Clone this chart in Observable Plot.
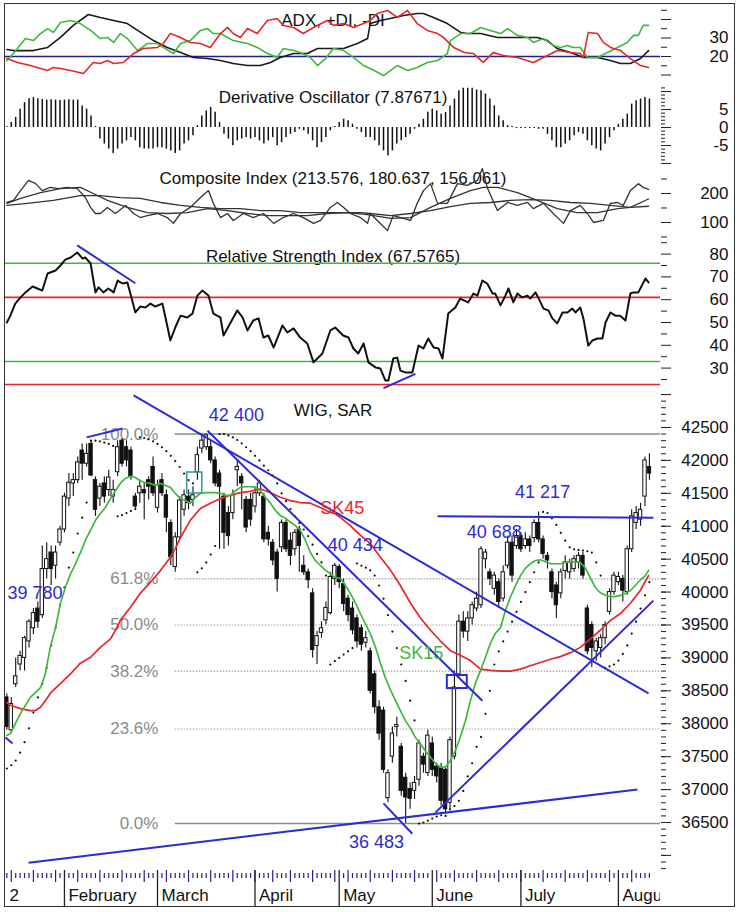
<!DOCTYPE html>
<html><head><meta charset="utf-8">
<script src="https://cdn.jsdelivr.net/npm/d3@7"></script>
<script src="https://cdn.jsdelivr.net/npm/@observablehq/plot@0.6"></script>
<style>
html,body{margin:0;padding:0;background:#fff;}
#chart{position:relative;width:739px;height:912px;overflow:hidden;background:#fff;}
#chart svg{overflow:visible;background:none!important;}
.panel{position:absolute;left:0;}
#frame{position:absolute;left:4px;top:3px;width:731px;height:904px;box-sizing:border-box;border:1.5px solid #333;z-index:10;pointer-events:none;}
</style></head>
<body><div id="chart"><div id="frame"></div></div>
<script>
// ---------------- DATA (day index 0 = 13 Jan 2012) ----------------
const open = [38400,37900,38600,38900,39000,39250,39450,39750,39650,40350,
 40600,40400,40750,40950,41420,41650,41700,42150,41950,42250,
 41700,41420,41650,41550,41450,41820,42300,42200,42150,41450,
 41500,41550,41700,41900,41280,41700,41470,41050,40380,40830,
 41250,41450,41400,41820,42180,42200,42200,42000,41800,41450,
 41200,41200,41850,41750,41400,41400,41300,41500,41450,40900,
 40750,40600,40680,41050,40780,40650,40950,40400,40300,39980,
 39180,39380,39570,39680,40200,40380,40120,39900,39750,39600,
 39450,39230,39100,38750,38250,38200,36870,37500,37950,37650,
 37180,37010,36980,37150,37500,37250,37700,37350,37330,37300,
 36800,37500,38750,39550,39400,39600,39750,39800,40500,40300,
 40050,40150,39900,40400,40750,40700,40850,40700,40800,40820,
 41050,40800,40550,40300,40100,39980,40320,40300,40350,40450,
 40550,39750,39500,39100,39150,39300,39700,40000,40150,40200,
 40000,40650,41050,41100,41450,41900];
const close = [37950,38300,38720,39030,39300,39550,39680,39550,40350,40500,
 40350,40600,40950,41450,41660,41700,41970,41950,42100,41770,
 41250,41600,41450,41740,41550,42200,41950,42000,41750,41300,
 41600,41500,41600,41500,41620,41500,41130,40530,40830,41390,
 41470,41350,41470,42080,42300,42380,42000,41650,41600,40900,
 40850,41470,41900,41650,40980,41100,41500,41650,40800,40800,
 40480,40200,41050,40650,40550,40900,40700,40300,40180,39120,
 39330,39450,39760,40230,40400,40150,39820,39650,39420,39250,
 39200,39300,38500,38250,37850,37300,37250,37850,37980,36980,
 36880,36860,37100,37700,37380,37820,37300,37200,36830,36700,
 37750,38550,39550,39400,39600,39800,39900,40650,40600,40200,
 40250,39850,40300,40750,40250,40850,40650,40800,40700,41050,
 40800,40580,40480,40000,39800,40300,40450,40450,40500,40550,
 40250,39100,39150,39250,39300,39500,40000,40250,40230,40020,
 40650,41150,41200,41250,42000,41800];
const high = [38450,38400,39000,39100,39330,39580,39750,39850,40700,40750,
 40700,40700,41000,41500,41800,41800,42050,42250,42250,42300,
 41750,41650,41750,41850,41700,42300,42330,42300,42200,41500,
 41700,41650,41750,42050,41700,41800,41550,41100,40900,41450,
 41550,41550,41600,42200,42400,42400,42300,42050,41850,41500,
 41300,41550,42000,41800,41450,41500,41600,41700,41500,41000,
 40800,40650,41100,41100,40900,40950,41000,40550,40350,40050,
 39400,39550,39850,40300,40434,40420,40200,39950,39850,39650,
 39500,39400,39150,38800,38350,38250,37300,37950,38100,37700,
 37250,37100,37200,37750,37550,37900,37800,37400,37400,37350,
 37800,38800,39650,39700,39700,39850,40000,40688,40650,40350,
 40300,40200,40400,40850,40850,40950,40900,40900,40850,41100,
 41217,40850,40600,40350,40150,40350,40550,40500,40550,40600,
 40600,39800,39550,39300,39350,39550,40050,40300,40300,40250,
 40700,41250,41300,41350,42050,42100];
const low = [37900,37850,38550,38800,38800,39150,39350,39450,39600,40200,
 40100,40200,40700,40900,41300,41450,41650,41700,41900,41750,
 41150,41300,41350,41450,41350,41750,41900,41900,41700,41270,
 41350,41100,41400,41450,41200,41450,40900,40400,40300,40800,
 41150,41250,41300,41700,42100,42150,41950,41600,40650,40650,
 40700,41100,41600,41250,40900,41000,41200,41450,40750,40700,
 40400,40000,40600,40600,40400,40550,40300,40250,40050,39000,
 38900,39300,39500,39650,40100,40050,39700,39550,39350,39150,
 39100,39150,38450,38150,37750,37250,36800,37400,37800,36900,
 36483,36700,36850,37050,37250,37200,37200,37100,36750,36620,
 36700,37450,38700,39300,39250,39500,39700,39750,40350,40100,
 39950,39750,39850,40350,40150,40650,40600,40650,40600,40750,
 40750,40500,40350,39900,39600,39900,40200,40200,40300,40350,
 40200,39050,38850,38950,39000,39200,39650,39950,40100,39850,
 39950,40600,40950,41000,41300,41700];
const sar = [37320,37370,37440,37560,37720,37930,38170,38400,38610,38850,
 39190,39460,39800,40070,40370,40600,40890,41130,41360,42300,
 42300,42290,42270,42250,42220,41150,41170,41200,41230,41260,
 42350,42340,42320,42290,42250,42200,42140,42070,41990,41900,
 41800,41700,41650,40300,40360,40450,40570,40700,42400,42400,
 42380,42350,42310,42260,42200,42140,42070,42000,41920,41850,
 41770,41650,41500,41380,41260,41150,41050,40950,40850,40720,
 40580,40450,40250,38900,38950,39000,39050,39100,39150,40434,
 40400,40370,40330,40250,40100,39900,39650,39400,39150,38900,
 38650,38350,38050,36483,36500,36530,36560,36590,36610,36600,
 36700,36750,36830,36980,37200,37400,37650,37800,38150,38500,
 38900,39100,39250,39400,39550,39700,39850,40000,40150,40300,
 40450,41217,41200,41120,41020,40900,40780,40680,40650,40640,
 40630,40620,40600,40450,40250,38850,38870,38900,38960,39060,
 39190,39370,39550,39750,39950,40150];
const sk15Day = [0,0.8,3.1,5.3,7.6,8.7,9.8,11,12.1,13.2,14.4,15.5,16.6,17.7,18.9,20,21.1,22.2,23.4,24.5,
 25.6,26.8,27.9,29,30.1,31.3,32.4,33.5,34.7,35.8,36.9,38,39.2,40.3,41.4,42.6,43.7,44.8,45.9,47.1,
 48.2,49.3,50.4,51.6,52.7,53.8,55,56.1,57.2,58.3,59.5,60.6,61.7,62.9,64,65.1,66.2,67.4,68.5,69.6,
 70.8,71.9,73,74.1,75.3,76.4,77.5,78.7,79.8,80.9,82,83.2,84.3,85.4,86.6,87.7,88.8,89.9,91.1,92.2,
 93.3,94.4,95.6,96.7,97.8,98.9,100.1,101.2,102.3,103.5,104.6,105.7,106.9,108,109.1,110.2,111.4,112.5,113.6,114.8,
 115.9,117,118.1,119.3,120.4,121.5,122.7,123.8,124.9,126,127.2,128.3,129.4,130.6,131.7,132.8,133.9,135.1,136.2,137.3,
 138.4,139.6,140.7,141.8,142.9,144.1,144.8];
const sk15Val = [37820,37850,38160,38400,38550,38760,39160,39460,39830,40070,40280,40430,40600,40780,40940,41090,41190,41280,41420,41540,
 41650,41730,41760,41740,41690,41660,41650,41620,41650,41620,41590,41500,41420,41390,41350,41440,41500,41510,41510,41510,
 41500,41470,41470,41540,41590,41600,41600,41590,41540,41440,41350,41240,41160,41120,41060,41010,40940,40780,40600,40480,
 40400,40330,40280,40220,40210,40100,39980,39830,39670,39520,39370,39160,38920,38700,38510,38350,38200,38050,37930,37790,
 37700,37590,37490,37400,37340,37340,37440,37590,37790,38050,38350,38610,38810,39010,39220,39370,39460,39720,39920,40100,
 40250,40360,40430,40480,40490,40460,40430,40430,40430,40450,40460,40460,40450,40360,40210,40070,39990,39950,39930,39930,
 39950,39980,40020,40100,40180,40250,40330];
const sk45Day = [0,0.8,3.1,5.3,6.5,7.6,8.7,9.8,11,12.1,14.4,16.6,18.9,21.1,23.4,24.5,25.6,27.9,30.1,32.4,
 34.7,36.9,38,39.2,41.4,43.7,45.9,48.2,50.4,52.7,55,57.2,58.3,59.5,61.7,64,66.2,68.5,70.8,73,
 74.1,75.3,77.5,79.8,82,84.3,86.6,88.8,91.1,93.3,95.6,97.8,100.1,102.3,104.6,106.9,109.1,111.4,113.6,115.9,
 118.1,120.4,122.7,124.9,127.2,129.4,131.7,133.9,136.2,138.4,140.7,142.9,144.8];
const sk45Val = [38320,38280,38230,38200,38200,38250,38350,38460,38540,38610,38760,38920,39010,39160,39290,39420,39570,39770,39980,40150,
 40330,40530,40660,40830,41090,41270,41350,41420,41470,41510,41530,41570,41540,41510,41440,41390,41360,41350,41280,41210,
 41190,41130,41010,40860,40740,40530,40330,40100,39830,39610,39420,39260,39110,39040,38960,38830,38810,38800,38800,38830,
 38880,38930,38980,39020,39080,39160,39290,39420,39570,39670,39830,40020,40250];
const fibLevels = [42400, 40200, 39500, 38800, 37920, 36483];
const fibLabels = ["100.0%", "61.8%", "50.0%", "38.2%", "23.6%", "0.0%"];
// analyst trend lines: [day1, value1, day2, value2]
const priceTrends = [[28.6,42986,144.8,38460],[45.3,42450,107.3,38350],[96.7,36650,145.9,39870],
 [4.9,35890,142.3,37000],[85,36790,91.5,36330],[97.2,41150,145.9,41130],[18,42350,26.1,42485],[-0.3,37790,1.3,37700]];
const rsiTrends = [[15.9,83.8,29,67.2],[85,21.2,92.2,27.5]];
const annoText = ["42 400","40 434","40 688","41 217","36 483"];
const annoDay = [51.8,78.6,110,120.9,83.4];
const annoVal = [42680,40708,40905,41513,36196];
const edgeText = ["39 780"];
const edgeDay = [0.15];
const edgeVal = [39978];
const adxDay = [0,1.5,6,9.2,12.1,15,18.4,21.1,24.1,27.2,30.2,33.1,36.2,39.2,42.1,45.3,48.2,51.1,54.3,57.2,59.5,61.7,64.7,67.8,70.1,73,76,79.1,81.4,82,84.3,86.5,89.5,92.6,94,96.3,99.4,102.4,103.9,106.9,110.7,114.3,119.7,122,124.2,127.2,130.1,133.3,136.2,138.5,140.7,143,144.8];
const adxVal = [23.8,23.2,23.2,24.9,30.3,36.8,42.7,41.1,39.5,37.8,33,28.6,24.9,22.2,19.5,18.9,17.8,16.2,15.1,15.1,16.8,19.5,21.6,21.6,24.3,24.3,24.3,27,29.7,37.8,39.5,40.5,42.2,43.2,43.2,41.1,37.8,33,32.4,32.4,30.3,30.3,30.3,28.6,24.3,22.2,19.5,19.5,17.8,16.2,16.2,18.9,23.2];
const pdiDay = [0,1.5,4.2,6,7.6,9.2,10.5,12.1,14.4,16.6,18.9,21.1,22.7,24.1,25.6,27.2,29.5,31.7,34,35.3,37.6,39.2,41.4,43.7,45.3,46.6,48.2,51.1,54.3,56.5,58.8,61,62.4,64.7,66.2,68.5,70.1,71.9,73.7,76,78.2,80.5,82,85,88.1,90.4,92.6,94.9,97.2,99.4,100.1,102.4,104.6,106.9,109.1,111.4,113,115.2,117.5,118.8,121.1,123.3,124.9,126.5,127.8,129.4,131,133.3,135.5,137.8,140,141.4,142.5,143.6,144.8];
const pdiVal = [17.8,21.6,29.7,28.6,32.4,35.1,33,38.4,39.5,37.8,34.1,29.7,30.3,27.6,32.4,29.7,23.2,27,27,24.9,21.6,27,28.6,34.1,35.1,32.4,32.4,28.6,27,24.9,21.6,19.5,24.3,23.2,22.2,19.5,15.1,18.9,24.3,23.2,19.5,15.1,13.5,9.7,15.1,12.4,14.1,16.8,17.8,21.6,28.6,32.4,32.4,35.7,34.1,32.4,35.1,31.4,30.3,27.6,29.7,25.9,24.9,25.9,24.9,24.9,19.5,19.5,22.2,24.9,27.6,31.4,31.4,36.8,36.8];
const mdiDay = [0,2.4,5.3,7.6,9.2,10.5,12.1,14.4,17.3,19.5,21.1,22.7,24.1,26.3,28.6,30.8,34,35.3,36.9,39.2,41.4,43.7,45.9,48.2,49.8,51.1,52.7,54.3,56.5,58.8,61,62.4,64.7,66.9,69.2,72.3,73.7,76,78.2,80.5,82,83.6,85.9,88.1,90.4,92.6,94.9,97.2,98.5,100.8,103.3,105.3,107.5,109.8,112,115.2,118.8,122,124.2,127.2,129.4,130.1,131.2,133.3,134.6,136.2,138.5,140.7,143,144.8];
const mdiVal = [18.9,16.8,15.1,13.5,12.4,14.1,13.5,12.4,10.8,16.8,16.2,17.8,16.2,16.8,21.6,24.3,24.9,27,32.4,30.3,27.6,27,24.9,32.4,35.7,32.4,30.3,35.1,32.4,39.5,40.5,36.8,35.7,32.4,35.7,39.5,36.8,37.8,35.7,37.8,39.5,43.2,44.9,41.1,44.9,37.8,34.1,32.4,30.3,24.9,22.2,21.6,16.8,22.2,20.5,19.5,16.8,20.5,23.2,22.2,21.6,19.5,33,32.4,27.6,24.9,23.2,18.9,15.1,14.1];
const doVal = [0.2,1.4,2.8,5.1,6.9,8,8.3,8,7.8,7.6,7.7,7.6,7.5,7.6,7.7,7.6,7.6,6,5.1,3.2,0.3,
 -3.2,-4.6,-6,-7.2,-6,-4.6,-3.7,-2.8,-3.7,-5.6,-6,-6,-6,-5.6,-5.6,-6,-6.5,-7.2,-6.5,-4.6,-3.7,-2.3,
 0.5,3.2,4.6,5.6,4.2,1.4,
 -1.9,-3.2,-5.1,-3.7,-3.2,-2.8,-3.2,-2.8,-3.7,-4.6,-3.7,-2.8,-5.1,-4.2,-2.8,-1.9,-1.4,-0.5,-0.9,-1.9,-3.7,-5.6,-4.2,-2.8,-0.9,
 0.3,1.4,2.3,1.9,0.9,-0.5,-1.4,-2.8,
 -2.8,-3.7,-5.1,-6.5,-7.9,-6.5,-4.6,-3.7,-2.8,-1.9,-0.5,0.9,2.3,4.2,5.1,4.6,3.7,4.2,6,7.9,
 10.2,10.9,10.9,10.9,10.4,10.2,9.3,7.9,6,3.2,1.9,0.5,0.3,-0.3,-0.3,-0.3,-0.3,-0.3,-0.5,-0.5,
 -1.9,-3.7,-5.6,-5.6,-4.6,-3.7,-2.3,-1.4,-1.9,-3.7,-5.1,-6,-6.5,-4.6,-2.8,-0.9,0.9,2.3,3.7,6.5,
 7.4,7.9,8.3,7.9];
const ciDay = [0,1.5,3.1,4.9,6.5,8,9.8,11.6,13.7,15.9,17.7,18.9,20,21.1,22.7,24.5,26.8,28.6,30.1,31.7,34,36.2,37.6,39.2,41.4,43.7,45.5,46.6,48.2,49.8,51.1,53.4,55.6,57.9,60.2,62.4,64.7,66.9,69.2,70.8,73,74.6,76,77.5,79.8,81.4,82,83.6,85.9,87.2,89.5,91.1,92.6,94,95.6,97.2,99.4,101.7,103.9,106.2,107.3,108.4,110.7,113,115.2,117.5,118.8,121.1,123.3,125.6,127.2,129.4,131,132.4,134.6,136.2,137.8,139.1,140.7,142.5,143.6,144.8];
const ciVal = [169,176,210,245,234,210,221,217,221,217,186,152,131,131,152,131,159,131,117,124,131,117,97,131,152,186,210,166,117,131,107,131,117,131,97,117,131,117,97,107,152,169,152,131,117,97,131,107,72,124,114,107,166,210,234,166,166,234,228,245,286,221,141,169,159,169,148,166,131,97,141,159,131,100,107,166,169,159,210,234,221,214];
const ciFastDay = [0,3.1,7.6,12.1,16.6,19.5,22.7,27.2,31.7,36.2,40.7,45.3,49.8,54.3,58.8,63.3,67.8,72.3,76.9,81.4,86.6,91.1,95.6,100.1,104.6,107.5,110.7,115.2,119.7,124.2,128.7,133.3,137.8,140.7,144.8];
const ciFastVal = [166,183,203,217,221,200,176,152,134,131,134,148,141,131,124,124,124,131,134,127,114,117,152,183,210,221,221,203,176,148,134,134,148,152,181];
const ciSlowDay = [0,4.6,10.5,16.6,21.1,25.6,30.1,34.7,39.2,43.7,48.2,52.7,57.2,61.7,66.2,70.8,75.3,79.8,82,86.6,91.1,95.6,100.1,104.6,109.1,113.6,118.1,122.7,127.2,131.7,136.2,140.7,144.8];
const ciSlowVal = [159,166,176,193,193,186,183,169,159,152,148,148,141,141,134,134,134,134,131,124,131,141,155,166,169,176,179,176,169,166,159,152,156];
const rsiDay = [0,0.8,1.9,3.1,4.2,5.8,6.9,8,9.2,11,12.1,13.2,14.4,15.9,17.1,17.7,18.9,20,20.7,21.8,
 22.9,24.1,25,26.1,27.2,28.3,29,30.1,31.3,32.4,33.5,35.1,35.8,36.9,38,39.2,40.7,41.9,43,44.1,
 45.5,46.6,48.2,48.9,50.5,52,53.2,54.3,55.6,56.8,57.9,59,60.2,62.2,63.3,64.7,66.2,67.8,69.2,71.2,
 73,74.1,75.9,77.1,78.2,79.3,80.5,81.6,83.2,84.3,85.4,86.1,87.2,88.1,88.8,89.9,91.5,92.9,94,95.1,
 96.3,97.4,98.3,99.6,101.2,102.3,104.1,105.3,106.2,107.3,108.4,109.6,110.2,111.4,112.5,113.2,114.3,115.2,116.3,117.5,
 118.1,119.3,119.9,121.1,122.2,123.1,124.2,125.4,126.5,127.6,128.3,129.4,130.1,131.2,132.1,133.3,134.4,135.1,136.2,137.3,
 138.4,139.6,140.7,141.4,142.5,144.1,144.8];
const rsiVal = [50,53,58.3,61,63.2,65.8,64.9,64,71.5,72.8,75,77.6,78.5,80.7,78,78.5,75.9,63.2,65.4,63.2,
 64.9,63.2,68.4,67.1,67.5,59.6,54.4,57,56.6,58.3,57,58.3,52.2,42.1,47.8,53,52.2,53.9,61.8,64,
 61.8,53.9,52.2,44.3,50,55.3,52.2,46.5,50.9,51.8,43.4,44.3,39,48.7,45.6,47.4,43.4,40.8,32.5,36.4,
 46.5,47.8,44.3,43.4,38.6,36.4,40.8,32.5,30.3,29.8,24.6,24.6,34.2,34.6,28.9,28.1,28.1,39.9,38.6,43,
 39,38.6,34.2,53.9,56.6,60.5,58.8,62.7,61.8,68.4,67.1,62.7,62.7,57.5,61.8,64.9,58.8,62.7,61,61.8,
 60.5,63.2,61,56.1,55.3,51.8,49.6,54.4,54.4,56.1,54.4,56.6,51.8,39.9,42.1,43,43,50,54.4,53,
 53,50.9,62.7,63.2,63.2,69.3,67.6];
const rsiGreen = [76, 32.9];
const rsiRed = [61, 22.8];
const monthNames = ["2","February","March","April","May","June","July","August"];
const monthDay = [-0.3,13,34,56,75,96,116,138];
const weekStart = [1,6,11,16,21,26,31,36,41,46,51,56,60,64,69,74,77,82,87,92,97,101,106,111,116,121,126,131,136,141];
const priceTickLabels = [36500,37000,37500,38000,38500,39000,39500,40000,40500,41000,41500,42000,42500];
const rsiTickLabels = [30,40,50,60,70,80];
const ciTickLabels = [100,200];
const doTickLabels = [5,0,-5];
const adxTickLabels = [20,30];

// ---------------- RENDER ----------------
const FONT = '"Liberation Sans", Arial, Helvetica, sans-serif';
const XD = [-0.3, 147.5];
const BLUE = "#2b2bd8", GREEN = "#3fb83f", RED = "#e8252b", NAVY = "#20208f";
const IDX = d3.range(open.length);
const chart = document.getElementById("chart");

function panel(top, height, yDomain, marks) {
  const svg = Plot.plot({
    width: 739, height, marginLeft: 5, marginRight: 79, marginTop: 0, marginBottom: 0,
    x: {domain: XD, axis: null},
    y: yDomain ? {domain: yDomain, axis: null} : undefined,
    style: {fontFamily: FONT, fontSize: "17px", background: "none", overflow: "visible", color: "#111"},
    marks
  });
  const div = document.createElement("div");
  div.className = "panel";
  div.style.top = top + "px";
  div.appendChild(svg);
  chart.appendChild(div);
}
const ticks = (vals, size) => Plot.axisY(vals, {anchor: "right", tickSize: size, fill: "none", stroke: "#222", label: null});
const labels = (vals) => Plot.text(vals, {y: d => d, text: d => String(d), frameAnchor: "right", dx: 68, textAnchor: "end", fontSize: 17, fill: "#111"});
const title = (t, dy) => Plot.text([t], {text: d => d, frameAnchor: "top", dy, lineAnchor: "middle", fontSize: 17, fill: "#111"});

// ADX
panel(4, 78, [5.95, 48.1], [
  title("ADX, +DI, -DI", 16),
  Plot.ruleY([20], {stroke: NAVY, strokeWidth: 1.5}),
  Plot.line(adxVal, {x: adxDay, y: adxVal, stroke: "#1a1a1a", strokeWidth: 1.6}),
  Plot.line(pdiVal, {x: pdiDay, y: pdiVal, stroke: GREEN, strokeWidth: 1.6}),
  Plot.line(mdiVal, {x: mdiDay, y: mdiVal, stroke: RED, strokeWidth: 1.6}),
  ticks([10,20,30,40], 10), ticks([15,25,35,45], 6), labels(adxTickLabels)
]);
// Derivative oscillator
panel(84, 82, [-10.83, 11.94], [
  title("Derivative Oscillator (7.87671)", 13),
  Plot.ruleX(doVal, {x: (d, i) => i, y1: 0, y2: d => d, stroke: "#111", strokeWidth: 1.5}),
  ticks(d3.range(-10, 12), 4), ticks([-10,-5,0,5,10], 10), labels(doTickLabels)
]);
// Composite
panel(166, 74, [37.9, 293.1], [
  title("Composite Index (213.576, 180.637, 156.061)", 12),
  Plot.line(ciSlowVal, {x: ciSlowDay, y: ciSlowVal, stroke: "#333", strokeWidth: 1.3}),
  Plot.line(ciFastVal, {x: ciFastDay, y: ciFastVal, stroke: "#333", strokeWidth: 1.3}),
  Plot.line(ciVal, {x: ciDay, y: ciVal, stroke: "#333", strokeWidth: 1.3}),
  ticks([50,150,250], 6), ticks([100,200], 10), labels(ciTickLabels)
]);
// RSI
panel(240, 146, [21.93, 85.96], [
  title("Relative Strength Index (67.5765)", 16),
  Plot.ruleY(rsiGreen, {stroke: GREEN, strokeWidth: 1.6}),
  Plot.ruleY(rsiRed, {stroke: RED, strokeWidth: 1.6}),
  Plot.line(rsiVal, {x: rsiDay, y: rsiVal, stroke: "#111", strokeWidth: 2}),
  Plot.link(rsiTrends, {x1: d => d[0], y1: d => d[1], x2: d => d[2], y2: d => d[3], stroke: BLUE, strokeWidth: 2}),
  ticks([25,35,45,55,65,75,85], 6), ticks([30,40,50,60,70,80], 10), labels(rsiTickLabels)
]);
// Main price panel
const up = IDX.filter(i => close[i] >= open[i]);
const dn = IDX.filter(i => close[i] < open[i]);
panel(388, 482, [35771, 43092], [
  Plot.ruleY([fibLevels[0], fibLevels[5]], {y: d => d, x1: 38, x2: 147.5, stroke: "#8a8a8a", strokeWidth: 1.5}),
  Plot.ruleY(fibLevels.slice(1, 5), {y: d => d, x1: 38, x2: 147.5, stroke: "#a0a0a0", strokeWidth: 1.2, strokeDasharray: "1.5,1.5"}),
  Plot.text(fibLabels, {x: 34.2, y: fibLevels, text: d => d, textAnchor: "end", fill: "#8a8a8a", fontSize: 17}),
  title("WIG, SAR", 22),
  Plot.dot(sar, {x: (d, i) => i, y: d => d, r: 1.1, fill: "#111", stroke: null}),
  Plot.ruleX(IDX, {x: i => i, y1: i => low[i], y2: i => high[i], stroke: "#111", strokeWidth: 1.1}),
  Plot.rect(up, {x1: i => i - 0.38, x2: i => i + 0.38, y1: i => open[i], y2: i => close[i], fill: "#fff", stroke: "#111", strokeWidth: 1}),
  Plot.rect(dn, {x1: i => i - 0.38, x2: i => i + 0.38, y1: i => open[i], y2: i => close[i], fill: "#111", stroke: "#111", strokeWidth: 1}),
  Plot.line(sk45Val, {x: sk45Day, y: sk45Val, stroke: RED, strokeWidth: 1.7}),
  Plot.line(sk15Val, {x: sk15Day, y: sk15Val, stroke: GREEN, strokeWidth: 1.7}),
  Plot.link(priceTrends, {x1: d => d[0], y1: d => d[1], x2: d => d[2], y2: d => d[3], stroke: BLUE, strokeWidth: 2}),
  Plot.rect([0], {x1: 40.7, x2: 44.1, y1: 41497, y2: 41816, fill: "none", stroke: "#2a9a9a", strokeWidth: 1.5}),
  Plot.rect([0], {x1: 99.4, x2: 103.9, y1: 38535, y2: 38733, fill: "none", stroke: BLUE, strokeWidth: 2}),
  Plot.text(annoText, {x: annoDay, y: annoVal, text: d => d, textAnchor: "middle", fill: BLUE, fontSize: 18}),
  Plot.text(edgeText, {x: edgeDay, y: edgeVal, text: d => d, textAnchor: "start", fill: BLUE, fontSize: 18}),
  Plot.text(["SK45"], {x: 75.7, y: 41270, text: d => d, fill: RED, fontSize: 18}),
  Plot.text(["SK15"], {x: 93.5, y: 39067, text: d => d, fill: GREEN, fontSize: 18}),
  ticks(d3.range(35800, 43001, 100), 5), ticks(d3.range(36000, 43001, 500), 10), labels(priceTickLabels)
]);
// Time axis
panel(870, 36, null, [
  Plot.tickX(IDX.filter(i => !monthDay.includes(i) && !weekStart.includes(i)), {x: d => d, insetTop: 3, insetBottom: 28, stroke: NAVY, strokeWidth: 1.2}),
  Plot.tickX(weekStart, {x: d => d, insetTop: 0, insetBottom: 24, stroke: NAVY, strokeWidth: 1.2}),
  Plot.ruleX(monthDay.slice(1), {x: d => d, stroke: "#222", strokeWidth: 1.3}),
  Plot.text(monthNames, {x: monthDay, text: d => d, frameAnchor: "top", dy: 25, dx: 4, textAnchor: "start", lineAnchor: "middle", fontSize: 17, fill: "#111", clip: true})
]);
</script></body></html>
